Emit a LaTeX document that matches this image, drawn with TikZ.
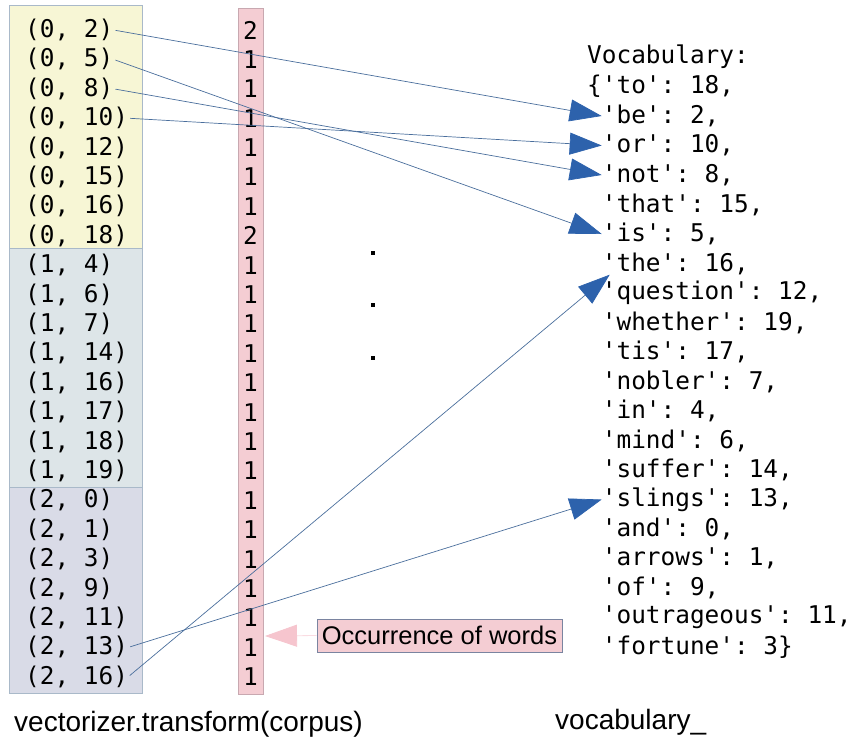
\documentclass[tikz,border=0pt]{standalone}
\usepackage{fontspec}
\setmainfont{Liberation Sans}
\setmonofont{DejaVu Sans Mono}
\usetikzlibrary{arrows.meta}
\definecolor{rowyellow}{HTML}{F7F6D5}
\definecolor{rowblue}{HTML}{DDE5E8}
\definecolor{rowviolet}{HTML}{D9DBE7}
\definecolor{countpink}{HTML}{F4CDD3}
\definecolor{countline}{HTML}{C8A8B0}
\definecolor{boxline}{HTML}{A9B9C9}
\definecolor{linkline}{HTML}{4A6E9C}
\definecolor{linktip}{HTML}{2D62AC}
\definecolor{notepink}{HTML}{F6C5CE}
\definecolor{noteline}{HTML}{7A84A0}

\begin{document}
\begin{tikzpicture}[x=1pt,y=-1pt,
  code/.style={anchor=west,inner sep=0pt,font=\ttfamily\fontsize{24.4}{29}\selectfont},
  caption/.style={anchor=west,inner sep=0pt,font=\fontsize{28}{32}\selectfont},
  link/.style={draw=linkline,line width=0.7pt,shorten <=2pt,
    -{Triangle[length=32pt,width=22pt,color=linktip,fill=linktip]}}]
\useasboundingbox (0,0) rectangle (864,740);
\draw[boxline,fill=rowyellow] (9,5) rectangle (142,248);
\draw[boxline,fill=rowblue] (9,248) rectangle (142,487);
\draw[boxline,fill=rowviolet] (9,487) rectangle (142,693);
\draw[countline,fill=countpink] (238,8) rectangle (263,694);
\foreach \a/\b/\c [count=\i from 0] in {0/2/2,0/5/1,0/8/1,0/10/1,0/12/1,0/15/1,0/16/1,0/18/2,
    1/4/1,1/6/1,1/7/1,1/14/1,1/16/1,1/17/1,1/18/1,1/19/1,
    2/0/1,2/1/1,2/3/1,2/9/1,2/11/1,2/13/1,2/16/1}{
  \node[code] (r\i) at (25,30+29.4*\i) {(\a, \b)};
  \node[code,anchor=center] (n\i) at (250.5,30+29.4*\i) {\c};
}
\foreach \y in {253,305,358}
  \fill (371,\y-2) rectangle +(4,4);
\node[code] (v0) at (587,57) {Vocabulary:};
\node[code] (v1) at (587,86.5) {\{'to': 18,};
\foreach \word/\idx [count=\j from 2] in {be/2,or/10,not/8,that/15,is/5,the/16,question/12,
    whether/19,tis/17,nobler/7,in/4,mind/6,suffer/14,slings/13,and/0,arrows/1,of/9,outrageous/11}
  \node[code] (v\j) at (601.7,57+29.5*\j) {'\word': \idx,};
\node[code] (v20) at (601.7,647) {'fortune': 3\}};
\draw[link] (r0.east) -- (v2.west);
\draw[link] (r1.east) -- (v6.west);
\draw[link] (r2.east) -- (v4.west);
\draw[link] (r3.east) -- (v3.west);
\draw[link] (r21.east) -- (v15.west);
\draw[link] (r22.east) -- ([xshift=8pt]v7.south west);
\node[draw=noteline,fill=countpink,inner xsep=5pt,inner ysep=0pt,minimum height=33pt,
  font=\fontsize{25.5}{30}\selectfont] (note) at (439.5,635.5) {Occurrence of words};
\coordinate (colside) at (265,636);
\draw[notepink!60,line width=0.8pt,-{Triangle[length=32pt,width=22pt,color=notepink,fill=notepink]}] (note.west) -- (colside);
\node[caption] (cap1) at (14,724) {vectorizer.transform(corpus)};
\node[caption] (cap2) at (555,722) {vocabulary\_};
\end{tikzpicture}
\end{document}
